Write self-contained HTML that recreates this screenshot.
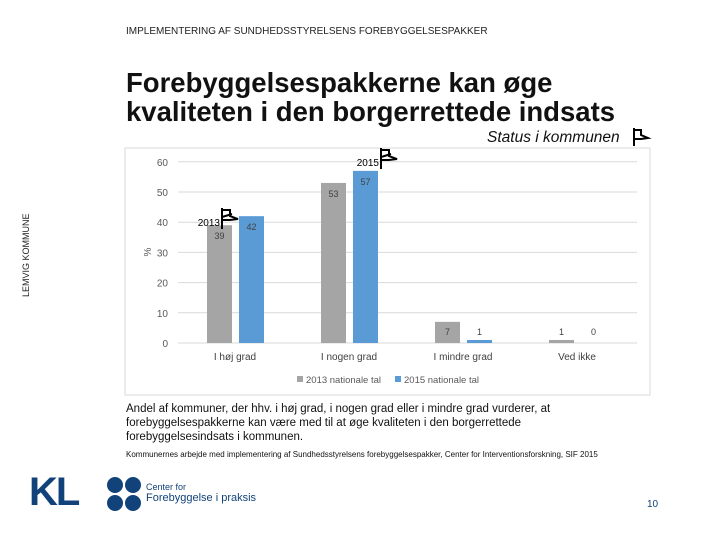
<!DOCTYPE html>
<html><head><meta charset="utf-8"><style>
body{margin:0;width:720px;height:540px;background:#fff;font-family:"Liberation Sans",sans-serif;position:relative;overflow:hidden}
.a{position:absolute;white-space:nowrap}
</style></head><body>
<div class="a" style="left:126px;top:26px;font-size:10px;color:#222">IMPLEMENTERING AF SUNDHEDSSTYRELSENS FOREBYGGELSESPAKKER</div>
<div class="a" style="left:126px;top:68px;font-size:27.5px;font-weight:bold;line-height:29px;color:#111">Forebyggelsespakkerne kan øge<br>kvaliteten i den borgerrettede indsats</div>
<div class="a" style="left:487px;top:129px;font-size:15.5px;font-style:italic;color:#111">Status i kommunen</div>
<div class="a" style="left:21px;top:297px;font-size:9px;color:#222;transform:rotate(-90deg);transform-origin:0 0">LEMVIG KOMMUNE</div>
<svg class="a" style="left:0;top:0" width="720" height="540" id="svg"></svg>
<div class="a" style="left:126px;top:402px;font-size:11.5px;line-height:14px;color:#111">Andel af kommuner, der hhv. i høj grad, i nogen grad eller i mindre grad vurderer, at<br>forebyggelsespakkerne kan være med til at øge kvaliteten i den borgerrettede<br>forebyggelsesindsats i kommunen.</div>
<div class="a" style="left:126px;top:450px;font-size:8px;color:#111">Kommunernes arbejde med implementering af Sundhedsstyrelsens forebyggelsespakker, Center for Interventionsforskning, SIF 2015</div>
<div class="a" style="left:29px;top:470px;font-size:40px;font-weight:bold;color:#12427a;letter-spacing:-2px">KL</div>
<svg class="a" style="left:106px;top:476px" width="36" height="36"><g fill="#12427a"><ellipse cx="9" cy="9" rx="8" ry="8"/><ellipse cx="27" cy="9" rx="8" ry="8"/><ellipse cx="9" cy="27" rx="8" ry="8"/><ellipse cx="27" cy="27" rx="8" ry="8"/></g></svg>
<div class="a" style="left:146px;top:482px;font-size:9px;line-height:11px;color:#12427a">Center for<br><span style="font-size:11px">Forebyggelse i praksis</span></div>
<div class="a" style="left:647px;top:499px;font-size:10px;color:#12427a">10</div>
<script>
const categories=["I høj grad","I nogen grad","I mindre grad","Ved ikke"];
const values2013=[39,53,7,1];
const values2015=[42,57,1,0];
const yTicks=[0,10,20,30,40,50,60];
const NS="http://www.w3.org/2000/svg",svg=document.getElementById('svg');
function el(t,a,txt){const e=document.createElementNS(NS,t);for(const k in a)e.setAttribute(k,a[k]);if(txt!==undefined)e.textContent=txt;svg.appendChild(e);return e;}
const y=v=>343-v*3.02, cx=i=>235+i*114;
let b=el('rect',{x:125,y:148,width:525,height:247,fill:'#fff',stroke:'#d9d9d9'});

yTicks.forEach(t=>{let g=el('line',{x1:178,x2:637,y1:y(t),y2:y(t),stroke:'#d9d9d9'});

let l=el('text',{x:168,y:y(t)+4,'font-size':10,fill:'#595959','text-anchor':'end'},t);
});
let yt=el('text',{x:151,y:252,'font-size':10,fill:'#595959','text-anchor':'middle',transform:'rotate(-90 151 252)'},'%');

categories.forEach((c,i)=>{
 let r1=el('rect',{x:cx(i)-28,y:y(values2013[i]),width:25,height:343-y(values2013[i]),fill:'#a5a5a5'});
 
 let r2=el('rect',{x:cx(i)+4,y:y(values2015[i]),width:25,height:343-y(values2015[i]),fill:'#5b9bd5'});
 
 let v1=el('text',{x:cx(i)-15.5,y:Math.min(y(values2013[i])+14,335),'font-size':9,fill:'#404040','text-anchor':'middle'},values2013[i]);
 
 let v2=el('text',{x:cx(i)+16.5,y:Math.min(y(values2015[i])+14,335),'font-size':9,fill:'#404040','text-anchor':'middle'},values2015[i]);
 
 let cl=el('text',{x:cx(i),y:360,'font-size':10,fill:'#404040','text-anchor':'middle'},c);
 
});
let lg1=el('rect',{x:297,y:376,width:6,height:6,fill:'#a5a5a5'});
let lt1=el('text',{x:306,y:383,'font-size':9.5,fill:'#595959'},'2013 nationale tal');
let lg2=el('rect',{x:395,y:376,width:6,height:6,fill:'#5b9bd5'});
let lt2=el('text',{x:404,y:383,'font-size':9.5,fill:'#595959'},'2015 nationale tal');
function flag(x,yy,lbl){
 let t=el('text',{x:x-2,y:yy,'font-size':10,fill:'#000','text-anchor':'end'},lbl);
 
 let p=el('path',{d:`M${x} ${yy+3} V${yy-18} M${x} ${yy-16} h8 v6 l8 3 l-8 1 h-8 M${x} ${yy-9} l10 -3`,stroke:'#000','stroke-width':2,fill:'none'});
 
}
flag(222,226,'2013');flag(381,166,'2015');
let sf=el('path',{d:'M634 146 V128 M634 130 h7 v5 l7 3 l-7 1 h-7',stroke:'#000','stroke-width':2,fill:'none'});

</script>
</body></html>
